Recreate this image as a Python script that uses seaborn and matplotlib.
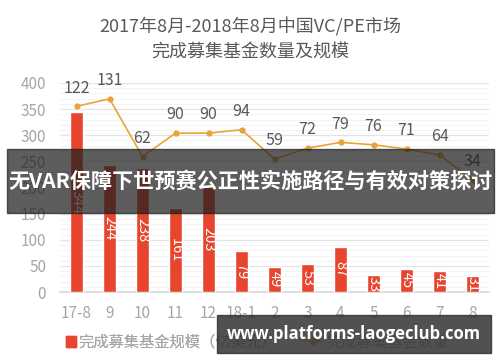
import numpy as np
import pandas as pd
import matplotlib
matplotlib.use("Agg")
import matplotlib.pyplot as plt
from matplotlib.patches import Rectangle
from matplotlib.lines import Line2D
from matplotlib.ticker import MultipleLocator, FixedLocator
import seaborn as sns

months = ["17-8", "9", "10", "11", "12", "18-1", "2", "3", "4", "5", "6", "7", "8"]
fund_size = [344, 244, 238, 161, 203, 79, 49, 53, 87, 33, 45, 41, 31]
fund_count = [122, 131, 62, 90, 90, 94, 59, 72, 79, 76, 71, 64, 34]

title_lines = ["2017年8月-2018年8月中国VC/PE市场", "完成募集基金数量及规模"]
legend_size = "完成募集基金规模（亿美元）"
legend_count = "完成募集基金数量"
banner_text = "无VAR保障下世预赛公正性实施路径与有效对策探讨"
watermark = "www.platforms-laogeclub.com"

sns.set_theme(style="white")
plt.rcParams["font.family"] = ["Noto Sans CJK SC", "DejaVu Sans"]

RED = "#E8452F"
ORANGE = "#E8A43A"
GRID = "#E4E4E4"
TICK = "#A6A6A6"
DARK = "#595959"

df = pd.DataFrame({"month": months, "size": fund_size, "count": fund_count})

fig = plt.figure(figsize=(5.0, 3.62), dpi=100)
ax = fig.add_axes([0.12, 0.193, 0.858, 0.578])

sns.barplot(data=df, x="month", y="size", color=RED, width=0.4, ax=ax,
            saturation=1, zorder=3)
ax.set_ylim(0, 400)
ax.yaxis.set_major_locator(MultipleLocator(50))
ax.yaxis.set_minor_locator(MultipleLocator(10))
ax.grid(axis="y", which="major", color=GRID, lw=0.9, zorder=0)
ax.grid(axis="y", which="minor", color="#F3F3F3", lw=0.7, zorder=0)
ax.set_axisbelow(True)
for s in ["left", "right", "top"]:
    ax.spines[s].set_visible(False)
ax.spines["bottom"].set_color("#D9D9D9")
ax.set_xlim(-0.5, len(months) - 0.5)
ax.set_xlabel("")
ax.set_ylabel("")
ax.tick_params(axis="y", which="both", length=0, labelsize=11, labelcolor=TICK, pad=10)
ax.tick_params(axis="x", which="major", length=0, labelsize=11, labelcolor=TICK, pad=9)
ax.xaxis.set_minor_locator(FixedLocator(np.arange(-0.5, len(months), 1.0)))
ax.tick_params(axis="x", which="minor", length=5, color="#D9D9D9", width=0.8)

for c in ax.containers:
    ax.bar_label(c, labels=[str(v) for v in fund_size], label_type="center",
                 rotation=-90, color="white", fontsize=10.5)

ax2 = ax.twinx()
sns.lineplot(x=np.arange(len(months)), y=fund_count, ax=ax2, color=ORANGE,
             marker="o", markersize=4.5, markeredgewidth=0, lw=1.2, zorder=4)
ax2.set_ylim(-100, 150)
ax2.set_yticks([])
for s in ax2.spines.values():
    s.set_visible(False)
for i, v in enumerate(fund_count):
    ax2.annotate(str(v), (i, v), xytext=(0, 7), textcoords="offset points",
                 ha="center", va="bottom", fontsize=11.5, color=DARK)

fig.text(0.5, 0.925, title_lines[0], ha="center", va="center", fontsize=13, color=DARK)
fig.text(0.5, 0.858, title_lines[1], ha="center", va="center", fontsize=13, color=DARK)

leg1 = fig.legend([Rectangle((0, 0), 1, 1, color=RED)], [legend_size],
                  loc="center left", bbox_to_anchor=(52 / 500, 0.055), frameon=False,
                  fontsize=11, labelcolor=TICK, handlelength=0.7, handleheight=0.7,
                  handletextpad=0.15)
fig.legend([Line2D([0], [0], color=ORANGE, marker="o", markersize=4.5, lw=1.2)],
           [legend_count], loc="center left", bbox_to_anchor=(290 / 500, 0.055),
           frameon=False, fontsize=11, labelcolor=TICK, handlelength=1.2,
           handletextpad=0.3)
fig.add_artist(leg1)

# overlay banner
fig.patches.append(Rectangle((7 / 500, 1 - 213 / 362), 487 / 500, 64 / 362,
                             transform=fig.transFigure, color=(0.12, 0.12, 0.12),
                             alpha=0.72, zorder=10))
fig.text(8 / 500, 1 - 181 / 362, banner_text, ha="left", va="center",
         fontsize=15.2, fontweight="bold", color="white", zorder=11)

# watermark box
fig.patches.append(Rectangle((217 / 500, 1 - 353 / 362), 274 / 500, 38 / 362,
                             transform=fig.transFigure, color=(0.2, 0.2, 0.2),
                             alpha=0.85, zorder=10))
fig.text(354 / 500, 1 - 334 / 362, watermark, ha="center", va="center",
         fontsize=12, fontweight="bold", color="white", zorder=11,
         family=["Open Sans", "DejaVu Sans"])

fig.savefig("out.png", dpi=100, facecolor="white")
